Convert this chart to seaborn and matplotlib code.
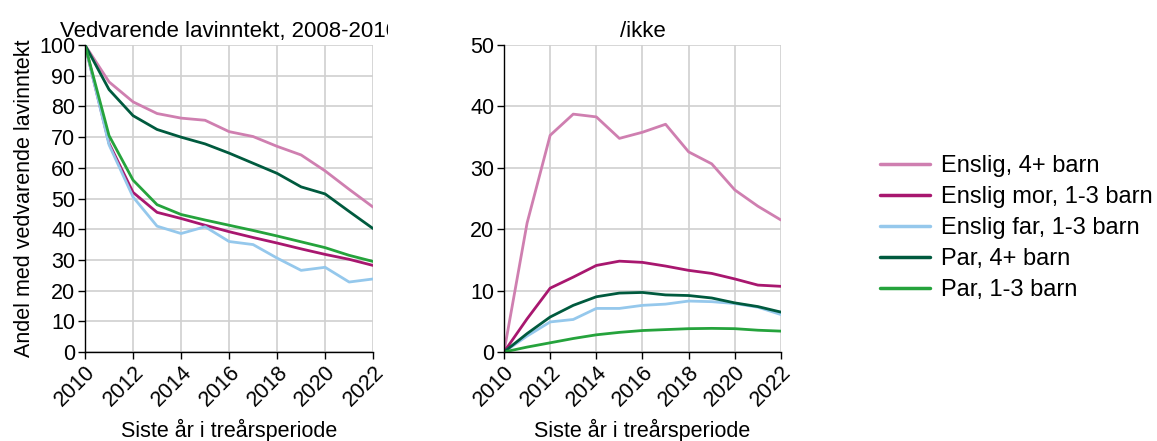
import numpy as np
import pandas as pd
import seaborn as sns
import matplotlib.pyplot as plt
from matplotlib.transforms import Bbox

years = list(range(2010, 2023))
groups = ["Enslig, 4+ barn", "Enslig mor, 1-3 barn", "Enslig far, 1-3 barn",
          "Par, 4+ barn", "Par, 1-3 barn"]
colors = ["#cf7fb0", "#a8176f", "#95c8ec", "#005a3e", "#25a33c"]

# venstre panel: vedvarende lavinntekt
vedv_enslig4 = [100, 88, 81.5, 77.7, 76.2, 75.5, 71.8, 70.2, 67, 64.2, 59, 53, 47.2]
vedv_mor = [100, 68, 52, 45.5, 43.5, 41.3, 39.2, 37.3, 35.5, 33.6, 31.8, 30.2, 28.2]
vedv_far = [100, 67.5, 50.5, 41, 38.6, 40.8, 36, 35, 30.6, 26.6, 27.6, 22.8, 23.8]
vedv_par4 = [100, 85.5, 77, 72.5, 70, 67.8, 64.8, 61.5, 58.2, 53.8, 51.5, 45.8, 40.2]
vedv_par13 = [100, 70.5, 56, 48, 44.8, 43, 41.3, 39.6, 37.8, 35.9, 34, 31.5, 29.5]

# høyre panel: /ikke
ikke_enslig4 = [0, 21, 35.3, 38.75, 38.3, 34.8, 35.8, 37.1, 32.6, 30.65, 26.4, 23.75, 21.5]
ikke_mor = [0, 5.4, 10.4, 12.2, 14.1, 14.8, 14.6, 14.0, 13.3, 12.8, 11.9, 10.9, 10.7]
ikke_far = [0, 2.6, 4.9, 5.3, 7.1, 7.1, 7.6, 7.8, 8.3, 8.2, 7.9, 7.3, 6.1]
ikke_par4 = [0, 3.0, 5.7, 7.6, 9.0, 9.6, 9.7, 9.3, 9.2, 8.8, 8.0, 7.4, 6.5]
ikke_par13 = [0, 0.8, 1.5, 2.2, 2.8, 3.2, 3.5, 3.65, 3.8, 3.85, 3.8, 3.55, 3.4]


def long_df(series):
    rows = []
    for g, vals in zip(groups, series):
        for y, v in zip(years, vals):
            rows.append({"aar": y, "gruppe": g, "verdi": v})
    return pd.DataFrame(rows)


df_left = long_df([vedv_enslig4, vedv_mor, vedv_far, vedv_par4, vedv_par13])
df_right = long_df([ikke_enslig4, ikke_mor, ikke_far, ikke_par4, ikke_par13])

sns.set_theme(style="whitegrid")
plt.rcParams['font.family'] = ['Liberation Sans', 'DejaVu Sans']
plt.rcParams['text.color'] = 'black'
plt.rcParams['axes.labelcolor'] = 'black'
plt.rcParams['xtick.color'] = 'black'
plt.rcParams['ytick.color'] = 'black'

fig = plt.figure(figsize=(11.57, 4.41), dpi=100)
ax1 = fig.add_axes([0.0735, 0.2018, 0.249, 0.696])
ax2 = fig.add_axes([0.4356, 0.2018, 0.2394, 0.696])

pal = dict(zip(groups, colors))
sns.lineplot(data=df_left, x="aar", y="verdi", hue="gruppe", palette=pal,
             linewidth=2, ax=ax1, legend=False)
sns.lineplot(data=df_right, x="aar", y="verdi", hue="gruppe", palette=pal,
             linewidth=2, ax=ax2, legend=True)

for ax, top in [(ax1, 100), (ax2, 50)]:
    ax.set_xlim(2010, 2022)
    ax.set_ylim(0, top)
    ax.set_xticks(range(2010, 2023, 2))
    ax.set_yticks(range(0, top + 1, 10))
    ax.grid(True, color="#d0d0d0", linewidth=1.2)
    for s in ["top", "right"]:
        ax.spines[s].set_visible(False)
    for s in ["left", "bottom"]:
        ax.spines[s].set_color("black")
        ax.spines[s].set_linewidth(1)
    ax.tick_params(axis="both", which="major", length=5, width=1, color="black",
                   labelcolor="black", labelsize=15.5, pad=2, bottom=True, left=True)
    plt.setp(ax.get_xticklabels(), rotation=45, ha="right", rotation_mode="anchor")
    ax.set_xlabel("Siste år i treårsperiode", fontsize=15.5, labelpad=6)
    ax.set_facecolor("white")

ax1.set_ylabel("Andel med vedvarende lavinntekt", fontsize=15.5, labelpad=3)
ax2.set_ylabel("")

t1 = ax1.set_title("Vedvarende lavinntekt, 2008-2010", fontsize=16, pad=6)
t1.set_clip_on(True)
t1.set_clip_box(Bbox([[0, 0], [388, 441]]))
ax2.set_title("/ikke", fontsize=16, pad=6)

leg = ax2.legend(loc="center left", frameon=False, fontsize=17, handlelength=2.1,
                 handletextpad=0.5, labelspacing=0.38, borderpad=0, borderaxespad=0)
leg.set_bbox_to_anchor((0.7606, 0.483), transform=fig.transFigure)
for line in leg.get_lines():
    line.set_linewidth(2.5)

fig.savefig("out.png", dpi=100)
